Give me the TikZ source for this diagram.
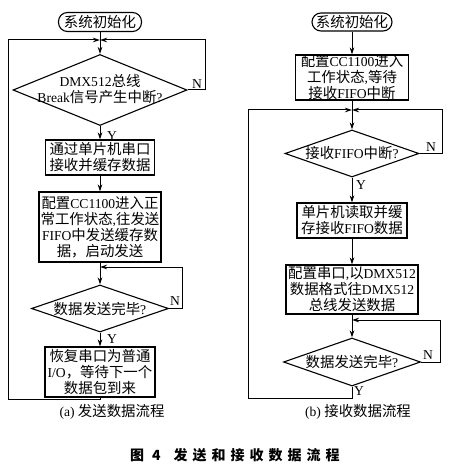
\documentclass[tikz,border=0pt]{standalone}
\usepackage{fontspec}
\setmainfont{Liberation Serif}
\newfontfamily\cjk{Noto Sans CJK SC}[Scale=1.06]
\newfontfamily\cjkcap{Noto Sans CJK SC}
\newcommand\zh[1]{{\cjk #1}}
\newcommand\fs{\fontsize{13.6}{16}\selectfont}
\usetikzlibrary{shapes.geometric,arrows.meta,calc}
\tikzset{
  boxst/.style={draw, line width=1.1pt, inner sep=0pt, align=center, font=\fs},
  diast/.style={draw, diamond, line width=1.1pt, inner sep=0pt},
  termst/.style={draw, rounded corners=9pt, line width=1.1pt, inner sep=0pt, font=\fs},
  lab/.style={inner sep=0pt, font=\fs, align=center},
  ln/.style={line width=1pt},
  arr/.style={ln, -{Stealth[length=7pt,width=4.5pt]}}
}
\begin{document}
\begin{tikzpicture}[x=1pt,y=-1pt]
\useasboundingbox (0,0) rectangle (450,465);
\fill[white] (0,0) rectangle (450,465);

% ---------- left flow (a) ----------
\node[termst, minimum width=83pt, minimum height=19pt] (t1) at (100,22) {\zh{系统初始化}};
\coordinate (m1) at (100,40);
\node[diast, minimum width=174pt, minimum height=71pt] (d1) at (100,90) {};
\node[lab] (d1t) at (100,89) {DMX512\zh{总线}\\Break\zh{信号产生中断}?};
\node[boxst, minimum width=109pt, minimum height=35pt] (b1) at (100,157.5) {\zh{通过单片机串口}\\\zh{接收并缓存数据}};
\node[boxst, minimum width=122pt, minimum height=70pt] (b2) at (100,227) {\zh{配置}CC1100\zh{进入正}\\\zh{常工作状态},\zh{往发送}\\FIFO\zh{中发送缓存数}\\\zh{据，启动发送}};
\coordinate (m2) at (100,267);
\node[diast, minimum width=137pt, minimum height=47pt] (d2) at (100,308.5) {};
\node[lab] (d2t) at (100,308.5) {\zh{数据发送完毕}?};
\node[boxst, minimum width=110pt, minimum height=50pt] (b3) at (100,372) {\zh{恢复串口为普通}\\I/O\zh{，等待下一个}\\\zh{数据包到来}};

\coordinate (c1) at (205,40);
\coordinate (c2) at (8,40);
\coordinate (c3) at (182,267);

\draw[ln] (t1) -- (m1);
\draw[arr] (m1) -- (d1.north);
\draw[arr] (d1.east) -| (c1) -- (m1);
\draw[arr] (d1.south) -- (b1.north);
\draw[arr] (b1.south) -- (b2.north);
\draw[ln] (b2.south) -- (m2);
\draw[arr] (m2) -- (d2.north);
\draw[arr] (d2.east) -| (c3) -- (m2);
\draw[arr] (d2.south) -- (b3.north);
\draw[arr] (b3.south) -- ++(0,1.5) -| (c2) -- (m1);

\node[lab] (n1) at (197,84) {N};
\node[lab] (y1) at (112,136) {Y};
\node[lab] (n2) at (175,301) {N};
\node[lab] (y2) at (112,339) {Y};
\node[lab] (capa) at (112,412) {(a) \zh{发送数据流程}};

% ---------- right flow (b) ----------
\node[termst, minimum width=80pt, minimum height=18pt] (t2) at (352,22) {\zh{系统初始化}};
\node[boxst, minimum width=113pt, minimum height=45pt] (r1) at (352,77.5) {\zh{配置}CC1100\zh{进入}\\\zh{工作状态},\zh{等待}\\\zh{接收}FIFO\zh{中断}};
\coordinate (m3) at (352,110);
\node[diast, minimum width=134pt, minimum height=47pt] (e1) at (352,153.5) {};
\node[lab] (e1t) at (352,153.5) {\zh{接收}FIFO\zh{中断}?};
\node[boxst, minimum width=110pt, minimum height=35pt] (r2) at (352,220.5) {\zh{单片机读取并缓}\\\zh{存接收}FIFO\zh{数据}};
\node[boxst, minimum width=132pt, minimum height=49pt] (r3) at (352,289.5) {\zh{配置串口},\zh{以}DMX512\\\zh{数据格式往}DMX512\\\zh{总线发送数据}};
\coordinate (m4) at (352,320);
\node[diast, minimum width=137pt, minimum height=48pt] (e2) at (352,362) {};
\node[lab] (e2t) at (352,362) {\zh{数据发送完毕}?};

\coordinate (c4) at (442,110);
\coordinate (c5) at (248,110);
\coordinate (c6) at (440,320);

\draw[arr] (t2) -- (r1);
\draw[ln] (r1.south) -- (m3);
\draw[arr] (m3) -- (e1.north);
\draw[arr] (e1.east) -| (c4) -- (m3);
\draw[arr] (e1.south) -- (r2.north);
\draw[arr] (r2.south) -- (r3.north);
\draw[ln] (r3.south) -- (m4);
\draw[arr] (m4) -- (e2.north);
\draw[arr] (e2.east) -| (c6) -- (m4);
\draw[arr] (e2.south) -- ++(0,12) -| (c5) -- (m3);

\node[lab] (n3) at (431,147.5) {N};
\node[lab] (y3) at (361,185) {Y};
\node[lab] (n4) at (428,355) {N};
\node[lab] (y4) at (359,391) {Y};
\node[lab] (capb) at (358,412) {(b) \zh{接收数据流程}};

% ---------- main caption ----------
\node[inner sep=0pt, anchor=west, font=\cjkcap\bfseries\fontsize{14}{16}\selectfont] (cap) at (130,455)
  {图\hspace{8pt}4\hspace{13pt}发\hspace{5pt}送\hspace{5pt}和\hspace{5pt}接\hspace{5pt}收\hspace{5pt}数\hspace{5pt}据\hspace{5pt}流\hspace{5pt}程};
\end{tikzpicture}
\end{document}
